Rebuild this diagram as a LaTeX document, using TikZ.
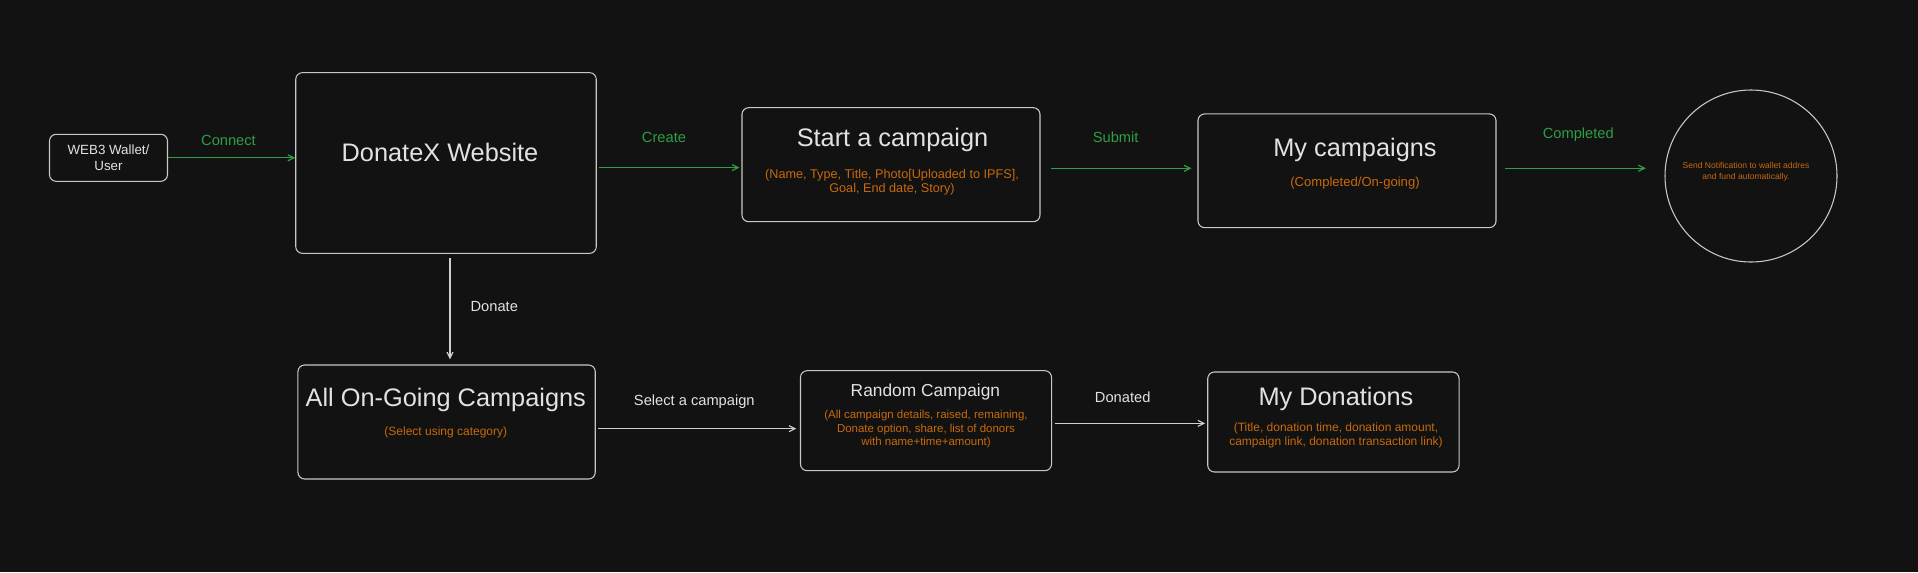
\documentclass[tikz,border=0pt]{standalone}
\usepackage{fontspec}
\setmainfont{Liberation Sans}
\usetikzlibrary{arrows.meta}

\begin{document}
\begin{tikzpicture}[x=0.75pt,y=-0.75pt,
  box/.style={draw=edge,fill=bg,rounded corners=5pt,line width=0.8pt,inner sep=0pt},
  title/.style={text=ink,inner sep=0pt,font=\fontsize{19}{22}\selectfont},
  note/.style={text=amber,inner sep=0pt,align=center,font=\fontsize{9}{10.2}\selectfont},
  tag/.style={inner sep=0pt,font=\fontsize{11}{13}\selectfont},
  flow/.style={-{Straight Barb[length=4.5pt,width=4.5pt]},line width=0.9pt}]
\definecolor{bg}{HTML}{121212}
\definecolor{edge}{HTML}{C8C8C8}
\definecolor{ink}{HTML}{E2E2E2}
\definecolor{amber}{HTML}{C8690C}
\definecolor{leaf}{HTML}{2F9E44}
\definecolor{mist}{HTML}{CFCFCF}
\fill[bg] (0,0) rectangle (1918,572);
% boxes
\node [box,minimum width=88.5pt,minimum height=35.25pt] (wallet) at (108.5,157.8) {};
\node [box,minimum width=225.4pt,minimum height=135.5pt] (website) at (446,163) {};
\node [box,minimum width=223.5pt,minimum height=85.5pt] (start) at (891,164.7) {};
\node [box,minimum width=223.5pt,minimum height=85.3pt] (mycamp) at (1347,170.8) {};
\node [box,circle,minimum size=129pt] (notify) at (1751,176) {};
\node [box,minimum width=223pt,minimum height=85.5pt] (ongoing) at (446.6,422) {};
\node [box,minimum width=188.3pt,minimum height=75pt] (random) at (926,420.7) {};
\node [box,minimum width=188.5pt,minimum height=75pt] (mydon) at (1333.4,422) {};
% box texts
\node [tag,text=ink,align=center,font=\fontsize{10}{12.5}\selectfont] (t-wallet) at (wallet) {WEB3 Wallet/\\User};
\node [title] (t-website) at (440,152.7) {DonateX Website};
\node [title] (t-start) at (892.5,139.5) {Start a campaign};
\node [note,font=\fontsize{9.5}{10.6}\selectfont] (n-start) at (892,182.5) {(Name, Type, Title, Photo[Uploaded to IPFS],\\Goal, End date, Story)};
\node [title] (t-mycamp) at (1355,150) {My campaigns};
\node [note,font=\fontsize{9.8}{11}\selectfont] (n-mycamp) at (1355,183.3) {(Completed/On-going)};
\node [note,font=\fontsize{6.4}{8.2}\selectfont] (n-notify) at (1746,172.2) {Send Notification to wallet addres\\and fund automatically.};
\node [title] (t-ongoing) at (445.8,400) {All On-Going Campaigns};
\node [note] (n-ongoing) at (445.8,432.7) {(Select using category)};
\node [title,font=\fontsize{13}{15}\selectfont] (t-random) at (925.4,391.7) {Random Campaign};
\node [note,font=\fontsize{8.6}{10}\selectfont] (n-random) at (926,429.2) {(All campaign details, raised, remaining,\\Donate option, share, list of donors\\with name+time+amount)};
\node [title] (t-mydon) at (1336,399) {My Donations};
\node [note] (n-mydon) at (1336,435.2) {(Title, donation time, donation amount,\\campaign link, donation transaction link)};
% arrows
\draw [flow,leaf] (wallet.east) -- (wallet.east -| website.west);
\draw [flow,leaf,shorten <=2pt,shorten >=1.5pt] ([yshift=-3.4pt]website.east) -- ([yshift=-3.4pt]website.east -| start.west);
\draw [flow,leaf,shorten <=8pt,shorten >=4.5pt] ([yshift=-2.7pt]start.east) -- ([yshift=-2.7pt]start.east -| mycamp.west);
\draw [flow,leaf,shorten <=6pt,shorten >=14pt] ([yshift=1.9pt]mycamp.east) -- ([yshift=1.9pt]mycamp.east -| notify.west);
\draw [flow,mist,shorten <=3.3pt,shorten >=3.8pt] ([xshift=3pt]website.south) -- ([xshift=3pt]website.south |- ongoing.north);
\draw [flow,mist,shorten <=1.5pt,shorten >=2.7pt] ([yshift=-5pt]ongoing.east) -- ([yshift=-5pt]ongoing.east -| random.west);
\draw [flow,mist,shorten <=2pt,shorten >=1.5pt] ([yshift=-2pt]random.east) -- ([yshift=-2pt]random.east -| mydon.west);
% arrow labels
\foreach \txt/\px/\py in {Connect/228.5/140,Create/664/137.3,Submit/1115.7/137.3,Completed/1578.3/134.3}
  {  \node [tag,text=leaf] (l-\txt) at (\px,\py) {\txt};}
\foreach \txt/\px/\py in {Donate/494.3/306.7,Select a campaign/694.3/401.7,Donated/1122.7/397.3}
  {  \node [tag,text=ink] at (\px,\py) {\txt};}
\end{tikzpicture}
\end{document}
